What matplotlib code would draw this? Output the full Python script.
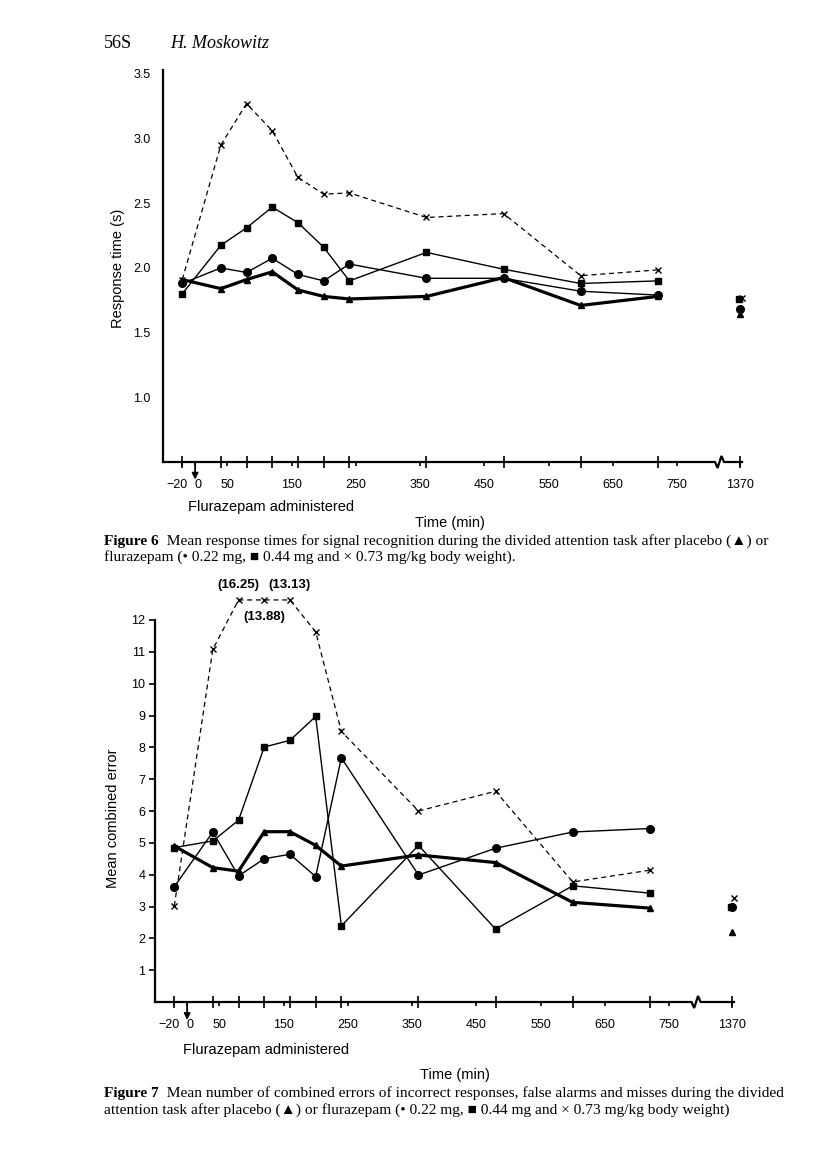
"""plot.py
recreate Moskowitz figures 6 and 7: response time and combined errors
after placebo or flurazepam, divided attention task.
"""

import numpy as np
import matplotlib
matplotlib.use('Agg')
import matplotlib.pyplot as plt
from matplotlib import transforms

plt.rcParams['font.family'] = ['Liberation Sans', 'DejaVu Sans']

# sampling times (min after flurazepam administration)
times = [-20, 40, 80, 120, 160, 200, 240, 360, 480, 600, 720]
late_time = 1370

x_tick_labels = ['\u221220', '0', '50', '150', '250', '350', '450', '550', '650', '750']
x_tick_values = [-20, 0, 50, 150, 250, 350, 450, 550, 650, 750]

# figure 6: response time (s)
rt_placebo = [1.91, 1.84, 1.91, 1.97, 1.83, 1.78, 1.76, 1.78, 1.925, 1.71, 1.78]
rt_022 = [1.88, 2.00, 1.965, 2.075, 1.95, 1.90, 2.03, 1.92, 1.92, 1.82, 1.79]
rt_044 = [1.80, 2.175, 2.31, 2.47, 2.35, 2.16, 1.90, 2.12, 1.99, 1.88, 1.90]
rt_073 = [1.91, 2.95, 3.27, 3.06, 2.70, 2.57, 2.58, 2.39, 2.42, 1.94, 1.985]
# placebo, 0.22, 0.44, 0.73 at 1370 min
rt_late = [1.645, 1.685, 1.76, 1.77]

# figure 7: mean combined errors
err_placebo = [4.90, 4.22, 4.11, 5.35, 5.35, 4.92, 4.27, 4.62, 4.38, 3.13, 2.95]
err_022 = [3.62, 5.34, 3.96, 4.50, 4.64, 3.94, 7.67, 3.99, 4.83, 5.34, 5.45]
err_044 = [4.85, 5.06, 5.71, 8.01, 8.22, 8.97, 2.39, 4.92, 2.29, 3.65, 3.42]
err_073 = [3.02, 11.08, 16.25, 13.88, 13.13, 11.63, 8.50, 6.00, 6.62, 3.77, 4.14]
err_late = [2.19, 3.00, 3.00, 3.28]

# layout
W, H = 816, 1165
LATE_POS = 848      # where 1370 min sits after the axis break
ERR_CAP = 12.63     # off-scale values drawn at top of the chart
CAP = 11.1          # caption font size
SERIF = ['Liberation Serif', 'DejaVu Sans']


def fx(x):
  return x / W


def fy(y):
  return 1 - y / H


def draw_series(ax, ys, late_ys):
  styles = [
    dict(marker='^', ms=4.5, lw=2.3, ls='-'),
    dict(marker='o', ms=5.5, lw=1.0, ls='-'),
    dict(marker='s', ms=4.5, lw=1.0, ls='-'),
    dict(marker='x', ms=4.0, lw=0.9, ls=(0, (4, 3)), mew=1.0),
  ]
  for y, st in zip(ys, styles):
    ax.plot(times, y, color='k', clip_on=False, **st)
  dodge = [0, 0, -2, 3]
  for v, st, d in zip(late_ys, styles, dodge):
    st = dict(st)
    st['ls'] = 'none'
    ax.plot([LATE_POS + d], [v], color='k', clip_on=False, **st)


def style_xaxis(ax, brk, h_px, arrow_len):
  ax.set_xlim(-50, 851)
  ax.spines['top'].set_visible(False)
  ax.spines['right'].set_visible(False)
  ax.spines['bottom'].set_visible(False)
  ax.spines['left'].set_linewidth(1.6)

  # broken x axis line
  tr = ax.get_xaxis_transform()
  f = 1.0 / h_px
  xs = [-50, brk - 9, brk - 5, brk + 1, brk + 5, 851]
  yy = [0, 0, -6 * f, 6 * f, 0, 0]
  ax.plot(xs, yy, transform=tr, color='k', lw=1.6, clip_on=False,
          solid_joinstyle='miter')

  ax.xaxis.remove_overlapping_locs = False
  ax.set_xticks(x_tick_values + [LATE_POS])
  ax.set_xticklabels(x_tick_labels + [str(late_time)], fontsize=9)
  ax.set_xticks(times + [LATE_POS], minor=True)
  ax.tick_params(axis='x', which='major', direction='out', length=3,
                 width=1.2, pad=9)
  ax.tick_params(axis='x', which='minor', direction='inout', length=9,
                 width=1.2)

  # -20 and 0 sit close together: push them apart
  labels = ax.get_xticklabels()
  shift = lambda dx: transforms.ScaledTranslation(dx / 72, 0, fig.dpi_scale_trans)
  labels[0].set_transform(labels[0].get_transform() + shift(-4))
  labels[1].set_transform(labels[1].get_transform() + shift(2))

  # drug administration arrow
  ax.annotate('', xy=(0, -arrow_len), xytext=(0, 0), xycoords=tr,
              textcoords=tr,
              arrowprops=dict(arrowstyle='-|>', color='k', lw=1.3,
                              mutation_scale=9, shrinkA=0, shrinkB=0))


def caption(y1, y2, num, line1, line2):
  b = fig.text(fx(104), fy(y1), num, fontsize=CAP, weight='bold',
               family=SERIF, va='center')
  fig.add_artist(matplotlib.text.Annotation(
    line1, xy=(1, 0.5), xycoords=b, va='center', fontsize=CAP,
    family=SERIF, annotation_clip=False))
  fig.text(fx(104), fy(y2), line2, fontsize=CAP, family=SERIF, va='center')


fig = plt.figure(figsize=(W / 100, H / 100), dpi=100)

# header
fig.text(fx(104), fy(43), '56S', fontsize=13, family='Liberation Serif',
         va='center')
fig.text(fx(170), fy(43), 'H. Moskowitz', fontsize=13, style='italic',
         family='Liberation Serif', va='center')

# ---- figure 6 ----
ax1 = fig.add_axes([fx(163), fy(462), (742 - 163) / W, (462 - 70) / H])
draw_series(ax1, [rt_placebo, rt_022, rt_044, rt_073], rt_late)
ax1.set_ylim(0.5, 3.53)
ax1.set_yticks([1.0, 1.5, 2.0, 2.5, 3.0, 3.5])
ax1.set_yticklabels(['1.0', '1.5', '2.0', '2.5', '3.0', '3.5'], fontsize=9)
ax1.set_yticks([3.5], minor=True)
ax1.tick_params(axis='y', which='major', length=0, pad=9)
ax1.tick_params(axis='y', which='minor', direction='inout', length=8, width=1.2)
style_xaxis(ax1, 818, 392, 0.045)

fig.text(fx(118), fy(268), 'Response time (s)', rotation=90, fontsize=10.5,
         ha='center', va='center')
fig.text(fx(188), fy(507), 'Flurazepam administered', fontsize=10.5,
         va='center')
fig.text(fx(450), fy(523), 'Time (min)', fontsize=10.5, ha='center',
         va='center')

caption(541, 557, 'Figure 6',
        '  Mean response times for signal recognition during the divided '
        'attention task after placebo (\u25b2) or',
        'flurazepam (\u2022 0.22 mg, \u25a0 0.44 mg and \u00d7 0.73 mg/kg '
        'body weight).')

# ---- figure 7 ----
ax2 = fig.add_axes([fx(155), fy(1002), (734 - 155) / W, (1002 - 620) / H])
err_073_shown = np.minimum(err_073, ERR_CAP)
draw_series(ax2, [err_placebo, err_022, err_044, err_073_shown], err_late)
ax2.set_ylim(0, 12)
ax2.set_yticks(range(1, 13))
ax2.set_yticklabels([str(i) for i in range(1, 13)], fontsize=9)
ax2.tick_params(axis='y', direction='out', length=4, width=1.2, pad=3)
style_xaxis(ax2, 794, 382, 0.047)

# actual values of off-scale points
offsets = {80: (0, 11), 120: (0, -12), 160: (0, 11)}
for t, v, shown in zip(times, err_073, err_073_shown):
  if v > shown:
    ax2.annotate('(%.2f)' % v, xy=(t, shown), xytext=offsets[t],
                 textcoords='offset points', ha='center', va='center',
                 fontsize=9.5, weight='bold', annotation_clip=False)

fig.text(fx(113), fy(818), 'Mean combined error', rotation=90, fontsize=10.5,
         ha='center', va='center')
fig.text(fx(183), fy(1050), 'Flurazepam administered', fontsize=10.5,
         va='center')
fig.text(fx(455), fy(1075), 'Time (min)', fontsize=10.5, ha='center',
         va='center')

caption(1093, 1110, 'Figure 7',
        '  Mean number of combined errors of incorrect responses, false '
        'alarms and misses during the divided',
        'attention task after placebo (\u25b2) or flurazepam (\u2022 0.22 mg, '
        '\u25a0 0.44 mg and \u00d7 0.73 mg/kg body weight)')

fig.savefig('out.png', dpi=100)
